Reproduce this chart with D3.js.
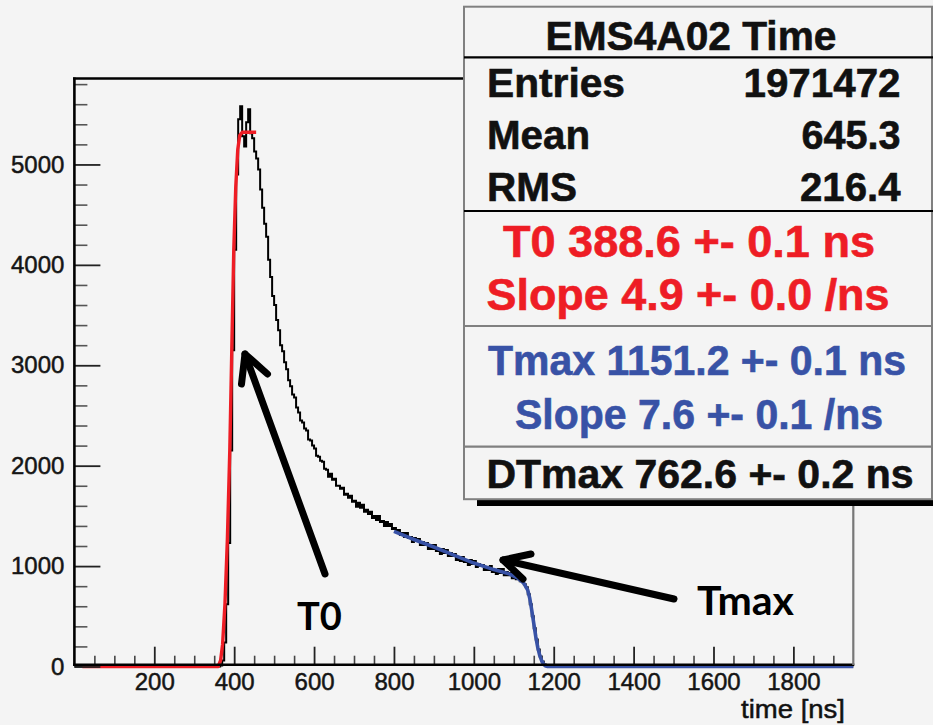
<!DOCTYPE html>
<html><head><meta charset="utf-8">
<script src="https://cdn.jsdelivr.net/npm/d3@7"></script>
<style>body{margin:0;background:#f4f4f4}svg{display:block}</style>
</head><body>
<svg id="c" width="933" height="725"></svg>
<script>
// ---- data ----
const binStart = 360, binWidth = 5;
const counts = [
0,10,60,240,620,1230,2150,3150,4150,4900,5450,5580,5280,5180,5420,5550,5310,5260,5130,5060,
4950,4750,4570,4410,4280,4050,3880,3690,3600,3450,
3350,3200,3140,3030,2960,2850,2790,2710,2680,2580,
2530,2450,2430,2370,2350,2260,2250,2200,2170,2100,
2090,2050,2040,1970,1960,1890,1920,1860,1870,1800,
1800,1770,1780,1710,1720,1680,1700,1640,1650,1590,
1630,1580,1610,1540,1560,1520,1540,1480,1500,1460,
1500,1440,1450,1400,1440,1400,1420,1370,1380,1350,
1360,1310,1330,1290,1330,1280,1290,1240,1280,1250,
1270,1210,1240,1210,1230,1170,1210,1170,1210,1150,
1160,1120,1170,1130,1160,1100,1130,1100,1120,1060,
1090,1050,1090,1040,1050,1010,1060,1020,1050,990,
1020,1000,1010,960,990,960,1000,940,960,920,
970,930,970,910,940,910,930,880,910,870,
910,850,860,820,790,720,620,500,380,270,
170,100,50,20,5,0];
// T0 fit (red): [time ns, value]
const fitT0 = [[20,0],[360,0],[366,60],[371,220],[377,630],[383,1270],[389,2150],[394,3150],[399,4150],[404,4780],[409,5150],[414,5290],[420,5320],[455,5320]];
// Tmax fit (blue)
const fitTmax = [[800,1345],[850,1265],[900,1190],[950,1110],[1000,1030],[1050,965],[1090,920],[1110,880],[1125,830],[1135,760],[1140,680],[1145,560],[1150,430],[1155,300],[1160,190],[1165,110],[1170,55],[1175,20],[1180,5],[1185,0],[1950,0]];
const xMajor = [200,400,600,800,1000,1200,1400,1600,1800];
const yMajor = [0,1000,2000,3000,4000,5000];
const statsTitle = "EMS4A02 Time";
const statsRows = [["Entries","1971472"],["Mean","645.3"],["RMS","216.4"]];
const fitT0Text = ["T0 388.6 +- 0.1 ns","Slope 4.9 +- 0.0 /ns"];
const fitTmaxText = ["Tmax 1151.2 +- 0.1 ns","Slope 7.6 +- 0.1 /ns"];
const dtText = "DTmax 762.6 +- 0.2 ns";
const xTitle = "time [ns]";

// ---- drawing ----
const svg = d3.select("#c");
const RED = "#ee1d25", BLUE = "#3852a6";
svg.append("rect").attr("width",933).attr("height",725).attr("fill","#f4f4f4");

const x = d3.scaleLinear().domain([0,1950]).range([74.4,853.3]);
const y = d3.scaleLinear().domain([0,5856]).range([666.5,78.5]);

const xMinor = d3.range(50,1950,50).filter(v=>v%200!==0);
const yMinor = d3.range(200,5856,200).filter(v=>v%1000!==0);

const font = "'Liberation Sans', Arial, sans-serif";

// histogram (step)
const pts = [[0,0],[binStart,0]];
counts.forEach((c,i)=>{const a=binStart+i*binWidth; pts.push([a,c]); pts.push([a+binWidth,c]);});
pts.push([binStart+counts.length*binWidth,0]); pts.push([1950,0]);
svg.append("path").attr("d",d3.line().x(d=>x(d[0])).y(d=>y(d[1]))(pts))
  .attr("fill","none").attr("stroke","#000").attr("stroke-width",2);

// fits
svg.append("path").attr("d",d3.line().x(d=>x(d[0])).y(d=>y(d[1]))(fitT0))
  .attr("fill","none").attr("stroke",RED).attr("stroke-width",3.4).attr("stroke-linejoin","round");
svg.append("path").attr("d",d3.line().x(d=>x(d[0])).y(d=>y(d[1]))(fitTmax))
  .attr("fill","none").attr("stroke",BLUE).attr("stroke-width",3.6).attr("stroke-linejoin","round");

// minor ticks
svg.append("g").attr("transform","translate(0,664.7)")
  .call(d3.axisBottom(x).tickValues(xMinor).tickSizeInner(-9).tickSizeOuter(0).tickFormat(""))
  .call(g=>g.select(".domain").remove())
  .call(g=>g.selectAll("line").attr("stroke","#444").attr("stroke-width",1.6));
svg.append("g").attr("transform","translate(74.4,0)")
  .call(d3.axisLeft(y).tickValues(yMinor).tickSizeInner(-13).tickSizeOuter(0).tickFormat(""))
  .call(g=>g.select(".domain").remove())
  .call(g=>g.selectAll("line").attr("stroke","#555").attr("stroke-width",1.6));
// major ticks
const gx = svg.append("g").attr("transform","translate(0,664.7)")
  .call(d3.axisBottom(x).tickValues(xMajor).tickSizeInner(-18).tickSizeOuter(0).tickPadding(8).tickFormat(d3.format("d")));
gx.select(".domain").remove();
gx.selectAll("line").attr("stroke","#222").attr("stroke-width",1.8);
gx.selectAll("text").attr("font-family",font).attr("font-size",24).attr("fill","#151515")
  .attr("stroke","#151515").attr("stroke-width",0.5);
const gy = svg.append("g").attr("transform","translate(74.4,0)")
  .call(d3.axisLeft(y).tickValues(yMajor).tickSizeInner(-26).tickSizeOuter(0).tickPadding(10).tickFormat(d3.format("d")));
gy.select(".domain").remove();
gy.selectAll("line").attr("stroke","#222").attr("stroke-width",1.8);
gy.selectAll("text").attr("font-family",font).attr("font-size",24).attr("fill","#151515")
  .attr("stroke","#151515").attr("stroke-width",0.5);

// frame
svg.append("line").attr("x1",x(0)).attr("x2",x(0)).attr("y1",77.5).attr("y2",666).attr("stroke","#000").attr("stroke-width",2.6);
svg.append("line").attr("x1",73).attr("x2",x(1950)+1).attr("y1",664.7).attr("y2",664.7).attr("stroke","#000").attr("stroke-width",2.6);
svg.append("line").attr("x1",73).attr("x2",466).attr("y1",78.5).attr("y2",78.5).attr("stroke","#000").attr("stroke-width",2.6);
svg.append("line").attr("x1",x(1950)).attr("x2",x(1950)).attr("y1",78).attr("y2",665).attr("stroke","#777").attr("stroke-width",2.2);

// x title
svg.append("text").attr("x",845).attr("y",718).attr("text-anchor","end")
  .attr("font-family",font).attr("font-size",26).attr("fill","#111")
  .attr("stroke","#111").attr("stroke-width",0.5)
  .attr("textLength",104).attr("lengthAdjust","spacingAndGlyphs").text(xTitle);

// stats box
svg.append("rect").attr("x",477).attr("y",500).attr("width",460).attr("height",6).attr("fill","#000");
svg.append("rect").attr("x",464).attr("y",6.7).attr("width",468).attr("height",492.5)
  .attr("fill","#f4f4f4").attr("stroke","#808080").attr("stroke-width",2);
[[57.3,"#000"],[211,"#000"],[326,"#808080"],[446.7,"#808080"]].forEach(([yy,c])=>{
  svg.append("line").attr("x1",464).attr("x2",933).attr("y1",yy).attr("y2",yy).attr("stroke",c).attr("stroke-width",2.2);
});
function txt(s,xx,yy,size,color,anchor,len){
  const t = svg.append("text").attr("x",xx).attr("y",yy).attr("font-family",font).attr("font-weight","bold")
    .attr("font-size",size).attr("fill",color).attr("stroke",color).attr("stroke-width",0.6)
    .attr("text-anchor",anchor).text(s);
  if(len){t.attr("textLength",len).attr("lengthAdjust","spacingAndGlyphs");}
  return t;
}
txt(statsTitle,691,50,41,"#111","middle",291);
const rowY=[97,148.5,201], labLen=[138,103,90], valLen=[157,99,100.5];
statsRows.forEach((r,i)=>{
  txt(r[0],487,rowY[i],40,"#111","start",labLen[i]);
  txt(r[1],900.5,rowY[i],40,"#111","end",valLen[i]);
});
txt(fitT0Text[0],689,257,44,RED,"middle",372);
txt(fitT0Text[1],688,309.5,44,RED,"middle",403);
txt(fitTmaxText[0],697,375,42,BLUE,"middle",418);
txt(fitTmaxText[1],699,428.5,42,BLUE,"middle",368);
txt(dtText,700,487.5,41,"#111","middle",427);

// annotations
function arrow(tail,tip,w1,w2){
  const g = svg.append("g").attr("fill","none").attr("stroke","#000").attr("stroke-width",7)
    .attr("stroke-linecap","round").attr("stroke-linejoin","round");
  g.append("line").attr("x1",tail[0]).attr("y1",tail[1]).attr("x2",tip[0]).attr("y2",tip[1]);
  g.append("polyline").attr("points",[w1,tip,w2].map(p=>p.join(",")).join(" "));
}
arrow([325,574],[245,354],[241.5,384],[267.5,374]);
arrow([674,599],[503,560],[531,554],[523,579]);
svg.append("text").attr("x",297).attr("y",630).attr("font-family","Lato, sans-serif").attr("font-weight","bold")
  .attr("font-size",38).attr("fill","#000").text("T0");
svg.append("text").attr("x",697).attr("y",615).attr("font-family","Lato, sans-serif").attr("font-weight","bold")
  .attr("font-size",41).attr("fill","#000").text("Tmax");
</script>
</body></html>
